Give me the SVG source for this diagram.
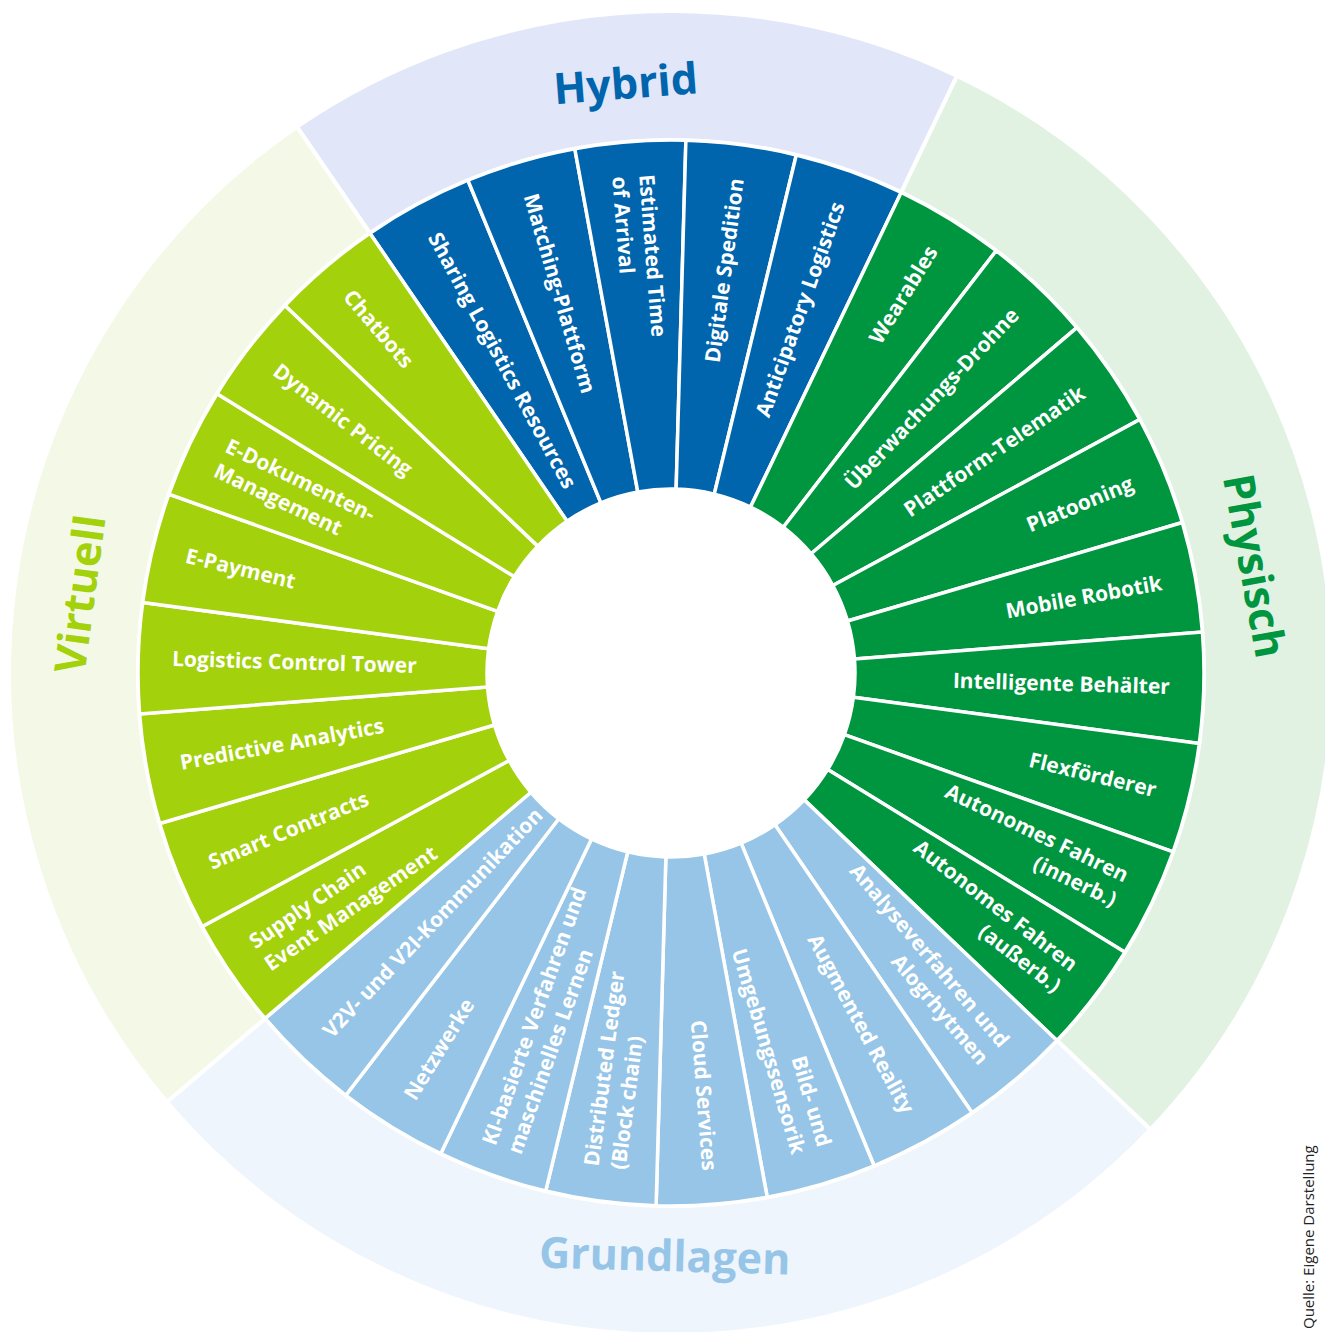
<svg xmlns="http://www.w3.org/2000/svg" xmlns:xlink="http://www.w3.org/1999/xlink" width="1325" height="1332" viewBox="0 0 1325 1332">
  <style>
    .seg{stroke:#fff;stroke-width:3.5;stroke-linejoin:miter}
    .band{stroke:#fff;stroke-width:4}
    .hy{fill:#0065ad}
    .ph{fill:#00953f}
    .gr{fill:#96c5e7}
    .vi{fill:#a3d10b}
    text{font-family:"Open Sans","Liberation Sans",sans-serif;font-weight:700}
    .t{font-size:21px;fill:#fff}
    .r{text-anchor:end}
    .cat{font-size:43px;text-anchor:middle}
    .src{font-family:"Open Sans","Liberation Sans",sans-serif;font-weight:400;font-size:15px;fill:#222}
  </style>
  <defs>
    <!-- one 12-degree ring sector pointing straight up, rotated into place per node -->
    <path id="seg" d="M-19.23-182.99L-55.71-530.08A533 533 0 0 1 55.71-530.08L19.23-182.99A184 184 0 0 0-19.23-182.99Z"/>
  </defs>
  <rect width="1325" height="1332" fill="#fff"/>

  <g transform="translate(671 673)">
    <!-- outer category bands -->
    <g id="band-hybrid">
      <path class="band" fill="#e1e6f8" transform="rotate(-4.4)" d="M-266.5-461.59L-331-573.31A662 662 0 0 1 331-573.31L266.5-461.59A533 533 0 0 0-266.5-461.59Z"/>
      <text class="cat hy" transform="rotate(-4.4)" x="0" y="-576">Hybrid</text>
    </g>
    <g id="band-physisch">
      <path class="band" fill="#e2f2e2" transform="rotate(79.6)" d="M-431.21-313.29L-535.57-389.11A662 662 0 0 1 535.57-389.11L431.21-313.29A533 533 0 0 0-431.21-313.29Z"/>
      <text class="cat ph" transform="rotate(79.6)" x="0" y="-578">Physisch</text>
    </g>
    <g id="band-grundlagen">
      <path class="band" fill="#eff5fd" transform="rotate(181.6)" d="M-396.1-356.65L-491.96-442.96A662 662 0 0 1 491.96-442.96L396.1-356.65A533 533 0 0 0-396.1-356.65Z"/>
      <text class="cat gr" transform="rotate(1.6)" x="10" y="598">Grundlagen</text>
    </g>
    <g id="band-virtuell">
      <path class="band" fill="#f4f9e7" transform="rotate(277.6)" d="M-396.1-356.65L-491.96-442.96A662 662 0 0 1 491.96-442.96L396.1-356.65A533 533 0 0 0-396.1-356.65Z"/>
      <text class="cat vi" transform="rotate(-82.4)" x="0" y="-581">Virtuell</text>
    </g>

    <!-- Hybrid -->
    <g id="sharing-logistics-resources">
      <use href="#seg" xlink:href="#seg" class="seg hy" transform="rotate(-28.4)"/>
      <text class="t" transform="rotate(61.6)" x="-499" y="7">Sharing Logistics Resources</text>
    </g>
    <g id="matching-plattform">
      <use href="#seg" xlink:href="#seg" class="seg hy" transform="rotate(-16.4)"/>
      <text class="t" transform="rotate(73.6)" x="-499" y="7">Matching-Plattform</text>
    </g>
    <g id="estimated-time-of-arrival">
      <use href="#seg" xlink:href="#seg" class="seg hy" transform="rotate(-4.4)"/>
      <text class="t" transform="rotate(85.6)"><tspan x="-499" y="-6.5">Estimated Time</tspan><tspan x="-499" y="20.5">of Arrival</tspan></text>
    </g>
    <g id="digitale-spedition">
      <use href="#seg" xlink:href="#seg" class="seg hy" transform="rotate(7.6)"/>
      <text class="t r" transform="rotate(-82.4)" x="499" y="7">Digitale Spedition</text>
    </g>
    <g id="anticipatory-logistics">
      <use href="#seg" xlink:href="#seg" class="seg hy" transform="rotate(19.6)"/>
      <text class="t r" transform="rotate(-70.4)" x="499" y="7">Anticipatory Logistics</text>
    </g>

    <!-- Physisch -->
    <g id="wearables">
      <use href="#seg" xlink:href="#seg" class="seg ph" transform="rotate(31.6)"/>
      <text class="t r" transform="rotate(-58.4)" x="499" y="7">Wearables</text>
    </g>
    <g id="ueberwachungs-drohne">
      <use href="#seg" xlink:href="#seg" class="seg ph" transform="rotate(43.6)"/>
      <text class="t r" transform="rotate(-46.4)" x="499" y="7">Überwachungs-Drohne</text>
    </g>
    <g id="plattform-telematik">
      <use href="#seg" xlink:href="#seg" class="seg ph" transform="rotate(55.6)"/>
      <text class="t r" transform="rotate(-34.4)" x="499" y="7">Plattform-Telematik</text>
    </g>
    <g id="platooning">
      <use href="#seg" xlink:href="#seg" class="seg ph" transform="rotate(67.6)"/>
      <text class="t r" transform="rotate(-22.4)" x="499" y="7">Platooning</text>
    </g>
    <g id="mobile-robotik">
      <use href="#seg" xlink:href="#seg" class="seg ph" transform="rotate(79.6)"/>
      <text class="t r" transform="rotate(-10.4)" x="499" y="7">Mobile Robotik</text>
    </g>
    <g id="intelligente-behaelter">
      <use href="#seg" xlink:href="#seg" class="seg ph" transform="rotate(91.6)"/>
      <text class="t r" transform="rotate(1.6)" x="499" y="7">Intelligente Behälter</text>
    </g>
    <g id="flexfoerderer">
      <use href="#seg" xlink:href="#seg" class="seg ph" transform="rotate(103.6)"/>
      <text class="t r" transform="rotate(13.6)" x="499" y="7">Flexförderer</text>
    </g>
    <g id="autonomes-fahren-innerb">
      <use href="#seg" xlink:href="#seg" class="seg ph" transform="rotate(115.6)"/>
      <text class="t r" transform="rotate(25.6)"><tspan x="499" y="-6.5">Autonomes Fahren</tspan><tspan x="499" y="20.5">(innerb.)</tspan></text>
    </g>
    <g id="autonomes-fahren-ausserb">
      <use href="#seg" xlink:href="#seg" class="seg ph" transform="rotate(127.6)"/>
      <text class="t r" transform="rotate(37.6)"><tspan x="499" y="-6.5">Autonomes Fahren</tspan><tspan x="499" y="20.5">(außerb.)</tspan></text>
    </g>

    <!-- Grundlagen -->
    <g id="analyseverfahren">
      <use href="#seg" xlink:href="#seg" class="seg gr" transform="rotate(139.6)"/>
      <text class="t r" transform="rotate(49.6)"><tspan x="499" y="-6.5">Analyseverfahren und</tspan><tspan x="499" y="20.5">Alogrhytmen</tspan></text>
    </g>
    <g id="augmented-reality">
      <use href="#seg" xlink:href="#seg" class="seg gr" transform="rotate(151.6)"/>
      <text class="t r" transform="rotate(61.6)" x="499" y="7">Augmented Reality</text>
    </g>
    <g id="bild-und-umgebungssensorik">
      <use href="#seg" xlink:href="#seg" class="seg gr" transform="rotate(163.6)"/>
      <text class="t r" transform="rotate(73.6)"><tspan x="497" y="-6.5">Bild- und</tspan><tspan x="497" y="20.5">Umgebungssensorik</tspan></text>
    </g>
    <g id="cloud-services">
      <use href="#seg" xlink:href="#seg" class="seg gr" transform="rotate(175.6)"/>
      <text class="t r" transform="rotate(85.6)" x="499" y="7">Cloud Services</text>
    </g>
    <g id="distributed-ledger">
      <use href="#seg" xlink:href="#seg" class="seg gr" transform="rotate(187.6)"/>
      <text class="t" transform="rotate(-82.4)"><tspan x="-499" y="-6.5">Distributed Ledger</tspan><tspan x="-499" y="20.5">(Block chain)</tspan></text>
    </g>
    <g id="ki-basierte-verfahren">
      <use href="#seg" xlink:href="#seg" class="seg gr" transform="rotate(199.6)"/>
      <text class="t" transform="rotate(-70.4)"><tspan x="-505" y="-6.5">KI-basierte Verfahren und</tspan><tspan x="-505" y="20.5">maschinelles Lernen</tspan></text>
    </g>
    <g id="netzwerke">
      <use href="#seg" xlink:href="#seg" class="seg gr" transform="rotate(211.6)"/>
      <text class="t" transform="rotate(-58.4)" x="-499" y="7">Netzwerke</text>
    </g>
    <g id="v2v-v2i-kommunikation">
      <use href="#seg" xlink:href="#seg" class="seg gr" transform="rotate(223.6)"/>
      <text class="t" transform="rotate(-46.4)" x="-499" y="7">V2V- und V2I-Kommunikation</text>
    </g>

    <!-- Virtuell -->
    <g id="supply-chain-event-management">
      <use href="#seg" xlink:href="#seg" class="seg vi" transform="rotate(235.6)"/>
      <text class="t" transform="rotate(-34.4)"><tspan x="-499" y="-6.5">Supply Chain</tspan><tspan x="-499" y="20.5">Event Management</tspan></text>
    </g>
    <g id="smart-contracts">
      <use href="#seg" xlink:href="#seg" class="seg vi" transform="rotate(247.6)"/>
      <text class="t" transform="rotate(-22.4)" x="-499" y="7">Smart Contracts</text>
    </g>
    <g id="predictive-analytics">
      <use href="#seg" xlink:href="#seg" class="seg vi" transform="rotate(259.6)"/>
      <text class="t" transform="rotate(-10.4)" x="-499" y="7">Predictive Analytics</text>
    </g>
    <g id="logistics-control-tower">
      <use href="#seg" xlink:href="#seg" class="seg vi" transform="rotate(271.6)"/>
      <text class="t" transform="rotate(1.6)" x="-499" y="7">Logistics Control Tower</text>
    </g>
    <g id="e-payment">
      <use href="#seg" xlink:href="#seg" class="seg vi" transform="rotate(283.6)"/>
      <text class="t" transform="rotate(13.6)" x="-499" y="7">E-Payment</text>
    </g>
    <g id="e-dokumenten-management">
      <use href="#seg" xlink:href="#seg" class="seg vi" transform="rotate(295.6)"/>
      <text class="t" transform="rotate(25.6)"><tspan x="-499" y="-6.5">E-Dokumenten-</tspan><tspan x="-499" y="20.5">Management</tspan></text>
    </g>
    <g id="dynamic-pricing">
      <use href="#seg" xlink:href="#seg" class="seg vi" transform="rotate(307.6)"/>
      <text class="t" transform="rotate(37.6)" x="-499" y="7">Dynamic Pricing</text>
    </g>
    <g id="chatbots">
      <use href="#seg" xlink:href="#seg" class="seg vi" transform="rotate(319.6)"/>
      <text class="t" transform="rotate(49.6)" x="-499" y="7">Chatbots</text>
    </g>
  </g>

  <!-- source note along the right edge -->
  <text class="src" transform="translate(1314 1329) rotate(-90)">Quelle: Eigene Darstellung</text>
</svg>
